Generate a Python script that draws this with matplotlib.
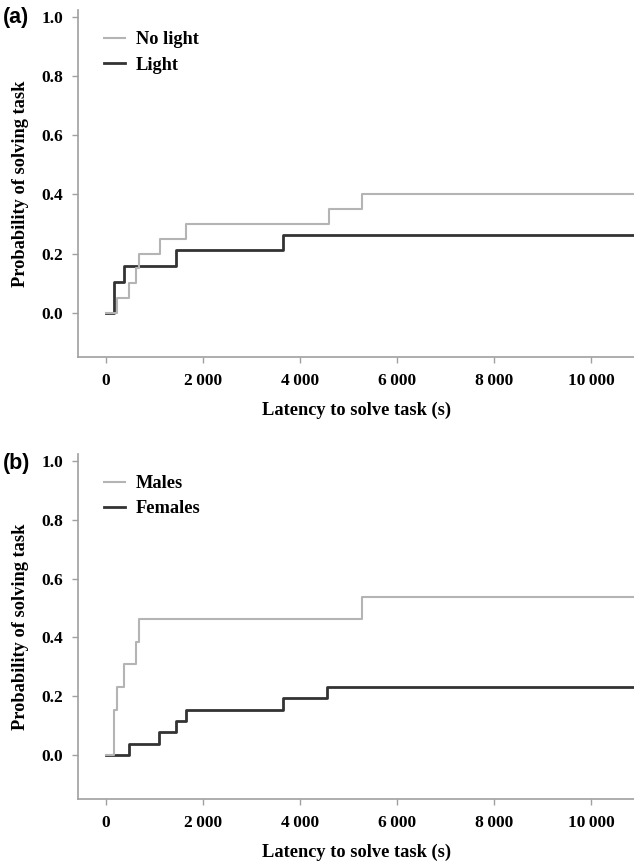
import matplotlib
matplotlib.use("Agg")
from matplotlib import pyplot
from matplotlib.ticker import FuncFormatter

# panel (a): light treatment, Kaplan-Meier style step data
nolight_t = [0, 227, 480, 619, 687, 1113, 1649, 4591, 5271, 10900]
nolight_p = [0.0, 0.05, 0.10, 0.15, 0.20, 0.25, 0.30, 0.35, 0.40, 0.40]
light_t = [0, 160, 172, 371, 1443, 3643, 10900]
light_p = [0.0, 0.0526, 0.1053, 0.1579, 0.2105, 0.2632, 0.2632]

# panel (b): sex
males_t = [0, 160, 171, 233, 371, 619, 687, 5271, 10900]
males_p = [0.0, 0.0769, 0.1538, 0.2308, 0.3077, 0.3846, 0.4615, 0.5385, 0.5385]
females_t = [0, 480, 1099, 1443, 1649, 3643, 4563, 10900]
females_p = [0.0, 0.0385, 0.0769, 0.1154, 0.1538, 0.1923, 0.2308, 0.2308]

x_ticks = [0, 2000, 4000, 6000, 8000, 10000]
y_ticks = [0.0, 0.2, 0.4, 0.6, 0.8, 1.0]

GREY = "#b4b4b4"
DARK = "#333333"
SPINE = "#a0a0a0"
SERIF = "Liberation Serif"


def thousands(v, pos):
    v = int(round(v))
    if v >= 1000:
        return "{:d}\u2009{:03d}".format(v // 1000, v % 1000)
    return str(v)


def style_axes(ax):
    ax.set_xlim(-577, 10886)
    ax.set_ylim(-0.15, 1.024)
    ax.set_xticks(x_ticks)
    ax.set_yticks(y_ticks)
    ax.xaxis.set_major_formatter(FuncFormatter(thousands))
    ax.yaxis.set_major_formatter(FuncFormatter(lambda v, p: "{:.1f}".format(v)))
    for s in ("top", "right"):
        ax.spines[s].set_visible(False)
    for s in ("left", "bottom"):
        ax.spines[s].set_color(SPINE)
        ax.spines[s].set_linewidth(1.2)
    ax.tick_params(axis="both", direction="out", length=4.5, width=1.0,
                   color=SPINE, labelsize=12.5)
    ax.tick_params(axis="y", pad=6)
    ax.tick_params(axis="x", pad=7)
    for lab in ax.get_xticklabels() + ax.get_yticklabels():
        lab.set_family(SERIF)
        lab.set_fontweight("bold")
    ax.set_xlabel("Latency to solve task (s)", family=SERIF, fontweight="bold",
                  fontsize=13.2, labelpad=9)
    ax.set_ylabel("Probability of solving task", family=SERIF, fontweight="bold",
                  fontsize=13.2, labelpad=9)


def draw_panel(ax, t1, p1, lab1, t2, p2, lab2):
    h2, = ax.step(t2, p2, where="post", color=DARK, linewidth=2.0, label=lab2)
    h1, = ax.step(t1, p1, where="post", color=GREY, linewidth=1.5, label=lab1)
    style_axes(ax)
    leg = ax.legend(handles=[h1, h2], loc="upper left", bbox_to_anchor=(0.03, 0.965),
                    frameon=False, handlelength=1.15, handletextpad=0.6,
                    borderpad=0.0, labelspacing=0.45,
                    prop={"family": SERIF, "weight": "bold", "size": 13.2})
    return leg


fig = pyplot.figure(figsize=(6.34, 8.61), dpi=100)
ax1 = fig.add_axes([78 / 634, (861 - 357) / 861, 556 / 634, 347 / 861])
ax2 = fig.add_axes([78 / 634, (861 - 799) / 861, 556 / 634, 345 / 861])

draw_panel(ax1, nolight_t, nolight_p, "No light", light_t, light_p, "Light")
draw_panel(ax2, males_t, males_p, "Males", females_t, females_p, "Females")

fig.text(0.004, 1 - 18 / 861, "(a)", family="Liberation Sans", fontweight="bold",
         fontsize=15.5, va="center", ha="left")
fig.text(0.004, 1 - 463 / 861, "(b)", family="Liberation Sans", fontweight="bold",
         fontsize=15.5, va="center", ha="left")

fig.savefig("out.png", dpi=100)
